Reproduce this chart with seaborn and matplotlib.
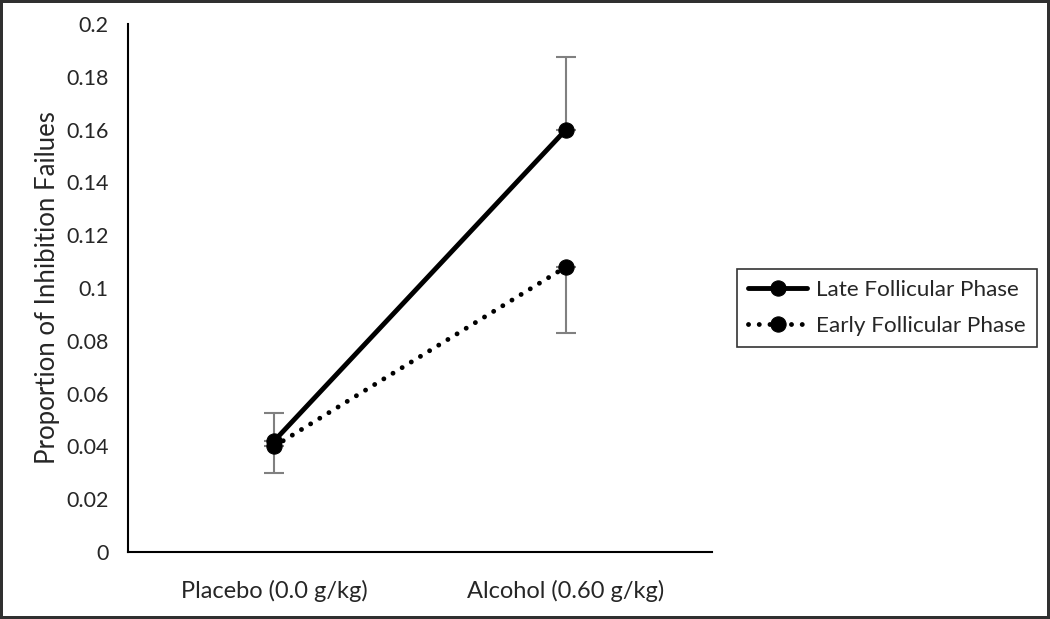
import matplotlib
matplotlib.use("Agg")
import matplotlib.pyplot as plt
import seaborn as sns
import numpy as np
import pandas as pd

categories = ["Placebo (0.0 g/kg)", "Alcohol (0.60 g/kg)"]
late_means = [0.042, 0.160]
early_means = [0.040, 0.108]
late_err_up = [0.0105, 0.0275]
early_err_down = [0.0102, 0.025]
series_names = ["Late Follicular Phase", "Early Follicular Phase"]

sns.set_style("white")
plt.rcParams["font.family"] = ["Lato", "DejaVu Sans"]

pos = np.arange(len(categories)) + 0.5
df = pd.DataFrame({
    "pos": np.concatenate([pos, pos]),
    "value": late_means + early_means,
    "series": [series_names[0]] * len(pos) + [series_names[1]] * len(pos),
})

fig = plt.figure(figsize=(10.5, 6.19), dpi=100)
fig.patch.set_edgecolor("#303030")
fig.patch.set_linewidth(3)
ax = fig.add_axes([128 / 1050, 67 / 619, (712 - 128) / 1050, (552 - 24) / 619])

# error bars (one-sided, like the original)
ax.errorbar(pos, late_means, yerr=[np.zeros(len(pos)), late_err_up], fmt="none",
            ecolor="#808080", elinewidth=1.5, capsize=7, capthick=1.5, zorder=1)
ax.errorbar(pos, early_means, yerr=[early_err_down, np.zeros(len(pos))], fmt="none",
            ecolor="#808080", elinewidth=1.5, capsize=7, capthick=1.5, zorder=1)

sns.lineplot(data=df[df.series == series_names[0]], x="pos", y="value", ax=ax,
             color="black", linewidth=3.5, marker="o", markersize=11,
             markeredgecolor="black", label=series_names[0], zorder=3)
sns.lineplot(data=df[df.series == series_names[1]], x="pos", y="value", ax=ax,
             color="black", linewidth=3.5, marker="o", markersize=11,
             markeredgecolor="black", label=series_names[1], zorder=2)
dotted = ax.lines[-1]
dotted.set_linestyle((0, (0.01, 2.2)))
dotted.set_dash_capstyle("round")

ax.set_xlim(0, len(categories))
ax.set_ylim(0, 0.2)
ax.set_yticks(np.arange(0, 0.201, 0.02))
ax.set_yticklabels(["0"] + [f"{v:g}" for v in np.arange(0.02, 0.201, 0.02)], fontsize=15.5)
ax.set_xticks(np.arange(len(categories) + 1))
ax.set_xticklabels([])
ax.set_xticks(pos, minor=True)
ax.set_xticklabels(categories, minor=True, fontsize=17)
ax.tick_params(axis="x", which="major", direction="out", length=8, width=1.3, color="black")
ax.tick_params(axis="x", which="minor", length=0, pad=20)
ax.tick_params(axis="y", direction="out", length=5, width=1.3, color="black", pad=9)
ax.set_xlabel("")
ax.set_ylabel("Proportion of Inhibition Failues", fontsize=18.5, labelpad=4)

for s in ["top", "right"]:
    ax.spines[s].set_visible(False)
for s in ["left", "bottom"]:
    ax.spines[s].set_color("black")
    ax.spines[s].set_linewidth(1.5)

leg = ax.legend(loc="center", bbox_to_anchor=(887 / 1050, 1 - 308 / 619),
                bbox_transform=fig.transFigure, fontsize=16.2, frameon=True,
                fancybox=False, edgecolor="black", handlelength=2.6,
                borderpad=0.5, labelspacing=0.7, handletextpad=0.4)
leg.get_frame().set_linewidth(1.2)
leg.get_lines()[1].set_linestyle((0, (0.01, 2.2)))
leg.get_lines()[1].set_dash_capstyle("round")

fig.savefig("out.png", dpi=100, edgecolor=fig.get_edgecolor())
